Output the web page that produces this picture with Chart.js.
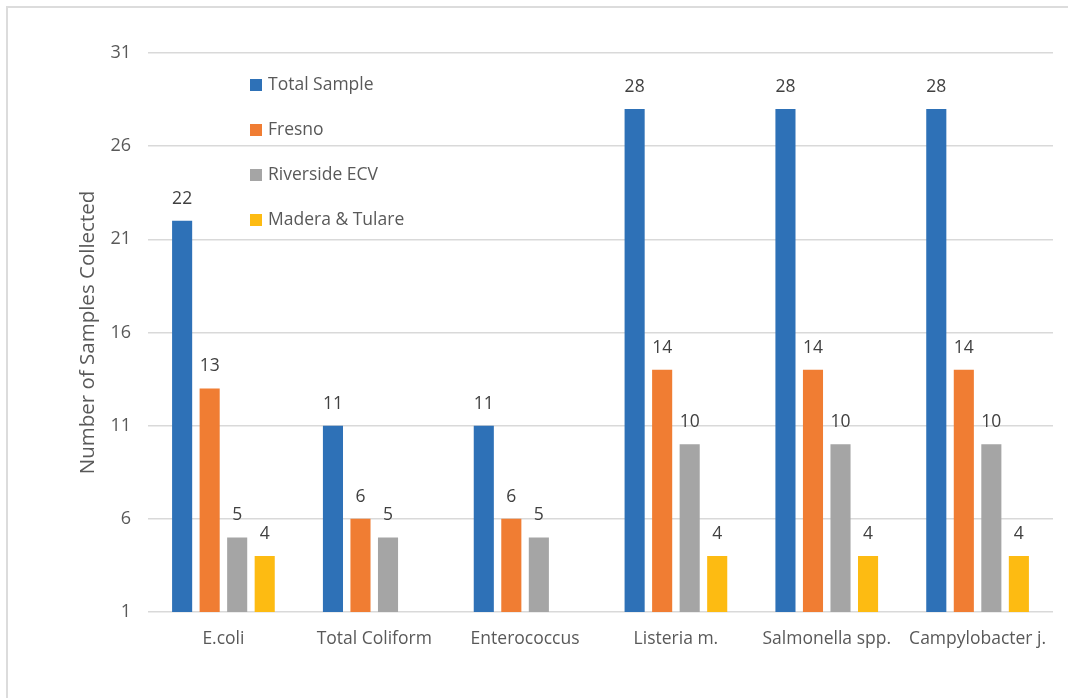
<!DOCTYPE html>
<html>
<head>
<meta charset="utf-8">
<script src="https://cdn.jsdelivr.net/npm/chart.js@4/dist/chart.umd.min.js"></script>
<style>
  html, body { margin: 0; padding: 0; background: #ffffff; }
  #wrap { width: 1068px; height: 698px; }
</style>
</head>
<body>
<div id="wrap"><canvas id="c" width="1068" height="698"></canvas></div>
<script>
// Pathogen categories and sample counts per site
const categories = ['E.coli', 'Total Coliform', 'Enterococcus', 'Listeria m.', 'Salmonella spp.', 'Campylobacter j.'];
const totalSample = [22, 11, 11, 28, 28, 28];
const fresno = [13, 6, 6, 14, 14, 14];
const riversideECV = [5, 5, 5, 10, 10, 10];
const maderaTulare = [4, null, null, 4, 4, 4];
const yTicks = [1, 6, 11, 16, 21, 26, 31];

const FONT = '"Open Sans", "Liberation Sans", sans-serif';
const TEXT = '#595959';

// Light frame around the chart
const framePlugin = {
  id: 'frame',
  beforeDraw(chart) {
    const ctx = chart.ctx;
    ctx.save();
    ctx.strokeStyle = '#dcdcdc';
    ctx.lineWidth = 2;
    ctx.beginPath();
    ctx.moveTo(7, 698);
    ctx.lineTo(7, 7);
    ctx.lineTo(1068, 7);
    ctx.stroke();
    ctx.restore();
  }
};

// Value labels above each bar
const valueLabels = {
  id: 'valueLabels',
  afterDatasetsDraw(chart) {
    const ctx = chart.ctx;
    ctx.save();
    ctx.font = '17.5px ' + FONT;
    ctx.fillStyle = '#404040';
    ctx.textAlign = 'center';
    ctx.textBaseline = 'middle';
    chart.data.datasets.forEach((ds, i) => {
      const meta = chart.getDatasetMeta(i);
      meta.data.forEach((bar, j) => {
        const v = ds.data[j];
        if (v === null || v === undefined) return;
        ctx.fillText(String(v), bar.x, bar.y - 22);
      });
    });
    ctx.restore();
  }
};

// Vertical legend inside the plot area
const insideLegend = {
  id: 'insideLegend',
  afterDraw(chart, args, opts) {
    const ctx = chart.ctx;
    ctx.save();
    ctx.font = '17.5px ' + FONT;
    ctx.textBaseline = 'middle';
    ctx.textAlign = 'left';
    chart.data.datasets.forEach((ds, i) => {
      const y = opts.y + i * opts.gap;
      ctx.fillStyle = ds.backgroundColor;
      ctx.fillRect(opts.x, y - 6, 12, 12);
      ctx.fillStyle = TEXT;
      ctx.fillText(ds.label, opts.x + 18, y);
    });
    ctx.restore();
  }
};

new Chart(document.getElementById('c'), {
  type: 'bar',
  data: {
    labels: categories,
    datasets: [
      { label: 'Total Sample', data: totalSample, backgroundColor: '#2E71B7' },
      { label: 'Fresno', data: fresno, backgroundColor: '#F07D33' },
      { label: 'Riverside ECV', data: riversideECV, backgroundColor: '#A5A5A5' },
      { label: 'Madera & Tulare', data: maderaTulare, backgroundColor: '#FDBB12' }
    ]
  },
  options: {
    responsive: false,
    animation: false,
    devicePixelRatio: 1,
    layout: { padding: { top: 53, right: 15, left: 76, bottom: 0 } },
    datasets: { bar: { barPercentage: 0.73, categoryPercentage: 0.73 } },
    plugins: {
      legend: { display: false },
      tooltip: { enabled: false },
      insideLegend: { x: 250, y: 85, gap: 45 }
    },
    scales: {
      x: {
        grid: { display: false, drawTicks: false },
        border: { display: false },
        ticks: { color: TEXT, font: { family: FONT, size: 17.5 }, padding: 17, maxRotation: 0, autoSkip: false },
        afterFit(scale) { scale.height = 86; }
      },
      y: {
        min: 1,
        max: 31,
        afterBuildTicks(scale) { scale.ticks = yTicks.map(v => ({ value: v })); },
        grid: { color: '#d9d9d9', lineWidth: 1.5, drawTicks: false },
        border: { display: false },
        ticks: { color: TEXT, font: { family: FONT, size: 18 }, padding: 17 },
        title: {
          display: true,
          text: 'Number of Samples Collected',
          color: TEXT,
          font: { family: FONT, size: 20.5 },
          padding: 0
        },
        afterFit(scale) { scale.width = 72; }
      }
    }
  },
  plugins: [framePlugin, valueLabels, insideLegend]
});
</script>
</body>
</html>
